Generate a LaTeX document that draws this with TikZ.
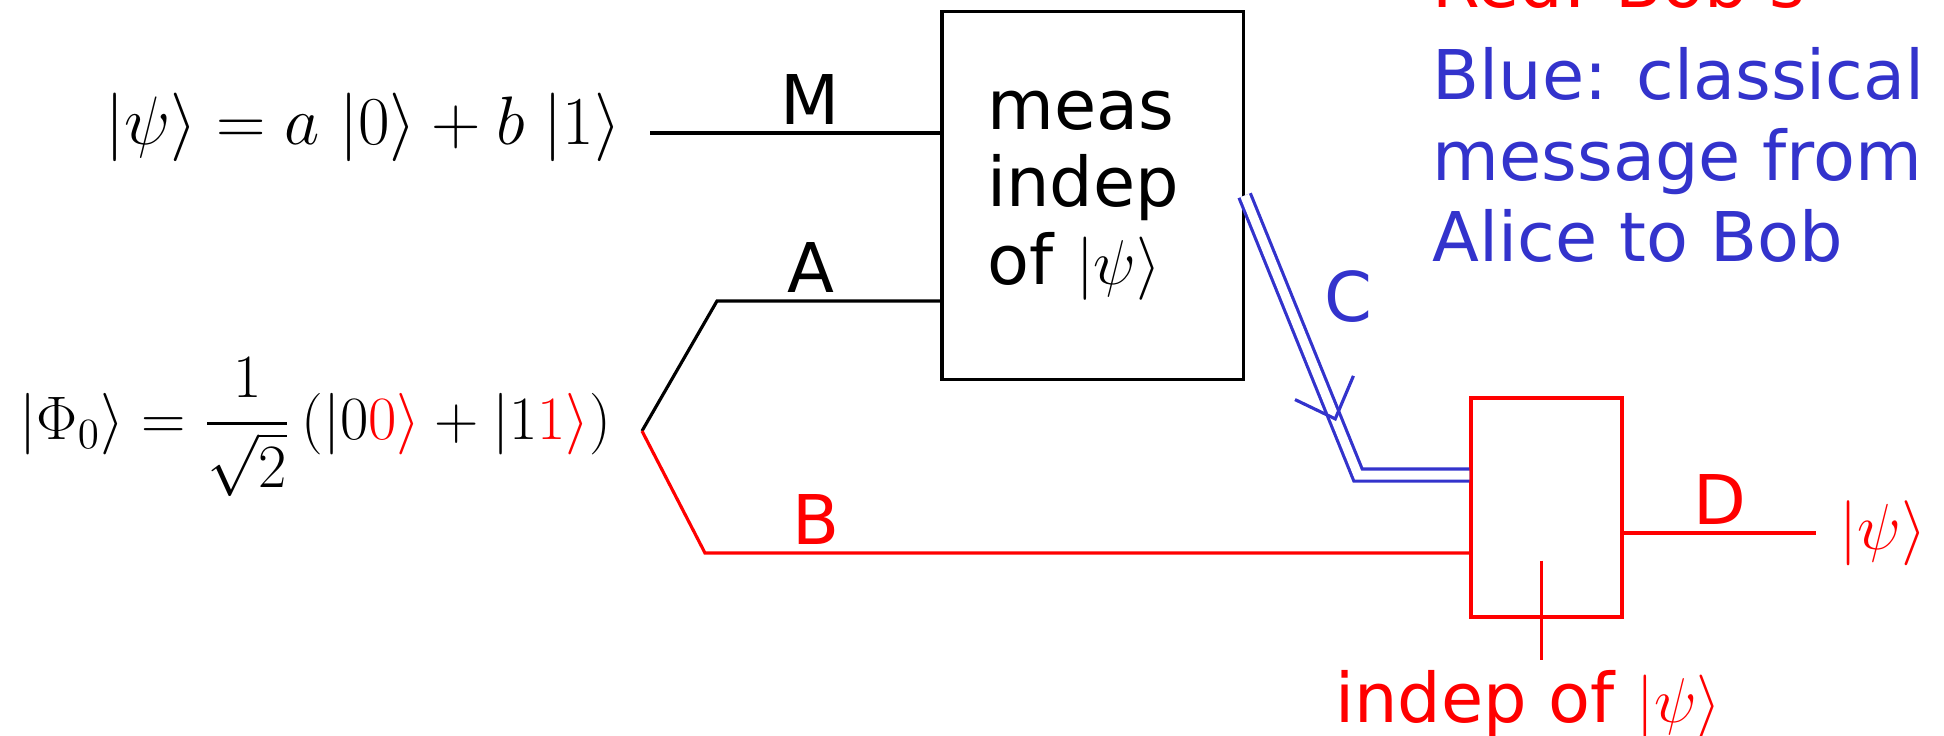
\RequirePackage{fix-cm}
\documentclass[tikz,border=0pt]{standalone}
\usepackage{amsmath}
\usepackage[no-math]{fontspec}
\setmainfont{DejaVu Sans}
\usetikzlibrary{positioning,calc,decorations.markings}
\definecolor{bobred}{HTML}{FF0000}
\definecolor{clblue}{HTML}{3333CC}
\newcommand{\psiket}{{\fontsize{18}{20}\selectfont$|\psi\rangle$}}

\begin{document}
\begin{tikzpicture}[x=0.01cm,y=-0.01cm,
      every node/.style={font=\fontsize{19.5}{23}\selectfont},
      wire/.style={line width=0.9pt},
      qbox/.style={draw,line width=0.9pt,minimum width=3.01cm,minimum height=3.67cm},
      lbl/.style={inner sep=2pt},
      hw/.style={inner sep=0pt,anchor=base west,font=\fontsize{18.5}{20}\selectfont},
      classic/.style={clblue,line width=0.9pt,double=white,double distance=0.09cm}]
    \useasboundingbox (0,0) rectangle (1944,736);
    \clip (0,0) rectangle (1944,736);
    \node[hw,font=\fontsize{19.5}{22}\selectfont] (psi) at (105,144) {$|\psi\rangle = a\;|0\rangle + b\;|1\rangle$};
    \node[hw,font=\fontsize{17.5}{20}\selectfont] (phi) at (19,439)
      {$|\Phi_0\rangle = \dfrac{1}{\sqrt{2}}\,(|0\textcolor{bobred}{0\rangle}+|1\textcolor{bobred}{1\rangle})$};
    \node[qbox,text width=2.1cm,align=left,font=\fontsize{19.5}{22}\selectfont] (meas) at (1092.5,195.5)
      {meas\\indep\\of \psiket};
    \node[qbox,draw=bobred,minimum width=1.51cm,minimum height=2.19cm] (bob) at (1546.5,507.5) {};
    \coordinate (min) at (650,133);
    \coordinate (fork) at (642,431);
    \coordinate (ain) at (717,301);
    \coordinate (bin) at (705,553);
    \coordinate (cbend) at (1358,475);
    \coordinate (dout) at (1816,533);
    \draw[wire] (min) -- node[lbl,above,pos=0.55] {M} (min -| meas.west);
    \draw[wire] (fork) -- (ain) -- node[lbl,above,pos=0.42] {A} (ain -| meas.west);
    \draw[wire,bobred] (fork) -- (bin) -- node[lbl,above,pos=0.145] {B} (bin -| bob.west);
    \draw[classic] (meas.east) -- node[lbl,pos=0.36,right=0.3cm] {C} (cbend) -- (cbend -| bob.west);
    \path[decorate,decoration={markings,mark=at position 0.8 with
      {\draw[clblue,line width=0.9pt] (-0.33cm,0.33cm) -- (0,0) -- (-0.33cm,-0.3cm);}}] (meas.east) -- (cbend);
    \draw[wire,bobred] (dout -| bob.east) -- node[lbl,above] {D} (dout);
    \node[hw,bobred,right=0.23cm of dout] (psiout) {$|\psi\rangle$};
    \coordinate (ttop) at ($(bob.south)+(-5,-58)$);
    \coordinate (tbot) at ($(bob.south)+(-5,41)$);
    \draw[wire,bobred] (ttop) -- (tbot);
    \node[inner sep=0pt,bobred,below=0.1cm of tbot,xshift=-0.13cm] (indep) {indep of \psiket};
    \node[inner sep=0pt,anchor=north west,align=left,clblue] (legblue) at (1432,47)
      {Blue: classical\\message from\\Alice to Bob};
    \node[inner sep=0pt,anchor=base west,bobred] (legred) at (1432,7) {Red: Bob's};
  \end{tikzpicture}
\end{document}
